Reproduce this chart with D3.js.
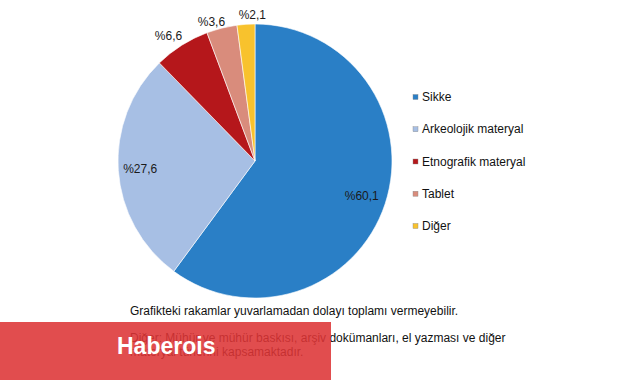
<!DOCTYPE html>
<html>
<head>
<meta charset="utf-8">
<script src="https://cdn.jsdelivr.net/npm/d3@7"></script>
<style>
  body { margin: 0; background: #fff; }
  svg text { font-family: "Liberation Sans", Arial, sans-serif; }
</style>
</head>
<body>
<div id="chart"></div>
<script>
const categories = ['Sikke', 'Arkeolojik materyal', 'Etnografik materyal', 'Tablet', 'Diğer'];
const values = [60.1, 27.6, 6.6, 3.6, 2.1];
const colors = ['#2a7fc6', '#a7bfe4', '#b5171b', '#d98c7c', '#f8c22d'];
const notes = [
  'Grafikteki rakamlar yuvarlamadan dolayı toplamı vermeyebilir.',
  'Diğer: Mühür ve mühür baskısı, arşiv dokümanları, el yazması ve diğer',
  'materyal türlerini kapsamaktadır.'
];

const width = 641;
const height = 380;
const cx = 255;
const cy = 161;
const radius = 137;

const data = categories.map((name, i) => ({ name, value: values[i], color: colors[i] }));

const svg = d3
  .select('#chart')
  .append('svg')
  .attr('width', width)
  .attr('height', height);

const pie = d3.pie().sort(null).value(d => d.value);
const arc = d3.arc().innerRadius(0).outerRadius(radius);
const arcs = pie(data);

const g = svg.append('g').attr('transform', `translate(${cx}, ${cy})`);

g.selectAll('path.slice')
  .data(arcs)
  .join('path')
  .attr('class', 'slice')
  .attr('d', arc)
  .attr('fill', d => d.data.color)
  .attr('stroke', '#fff')
  .attr('stroke-width', 0.6);

// labels: inside for big slices, outside (best fit) for the small ones
const fmt = v => '%' + v.toFixed(1).replace('.', ',');
const labelRadius = [0.82, 0.84, 1.11, 1.07, 1.07];
const labelShift = [[0, 0], [0, 0], [-5, 3], [-8, 3], [7, 0]];

g.selectAll('text.label')
  .data(arcs)
  .join('text')
  .attr('class', 'label')
  .attr('text-anchor', 'middle')
  .attr('dy', '0.35em')
  .attr('font-size', 12)
  .attr('fill', '#1a1a1a')
  .attr('transform', (d, i) => {
    const a = (d.startAngle + d.endAngle) / 2;
    const r = radius * labelRadius[i];
    return `translate(${r * Math.sin(a) + labelShift[i][0]}, ${-r * Math.cos(a) + labelShift[i][1]})`;
  })
  .text(d => fmt(d.data.value));

// legend
const legendY = d3.scalePoint().domain(categories).range([97, 226]);
const legend = svg
  .append('g')
  .selectAll('g')
  .data(data)
  .join('g')
  .attr('transform', d => `translate(413, ${legendY(d.name)})`);

legend
  .append('rect')
  .attr('x', 0)
  .attr('y', -2.5)
  .attr('width', 5)
  .attr('height', 5)
  .attr('fill', d => d.color)
  .attr('stroke', '#888')
  .attr('stroke-width', 0.4);

legend
  .append('text')
  .attr('x', 9)
  .attr('dy', '0.35em')
  .attr('font-size', 12)
  .attr('fill', '#111')
  .text(d => d.name);

// footnotes
svg
  .append('g')
  .selectAll('text')
  .data(notes)
  .join('text')
  .attr('x', 130)
  .attr('y', (d, i) => [315, 342, 356][i])
  .attr('font-size', 12)
  .attr('fill', '#111')
  .text(d => d);

// watermark banner
svg
  .append('rect')
  .attr('x', 0)
  .attr('y', 322)
  .attr('width', 331)
  .attr('height', 58)
  .attr('fill', 'rgb(221, 52, 54)')
  .attr('fill-opacity', 0.88);

svg
  .append('text')
  .attr('x', 117)
  .attr('y', 354)
  .attr('font-size', 23)
  .attr('font-weight', 'bold')
  .attr('fill', '#fff')
  .text('Haberois');
</script>
</body>
</html>
